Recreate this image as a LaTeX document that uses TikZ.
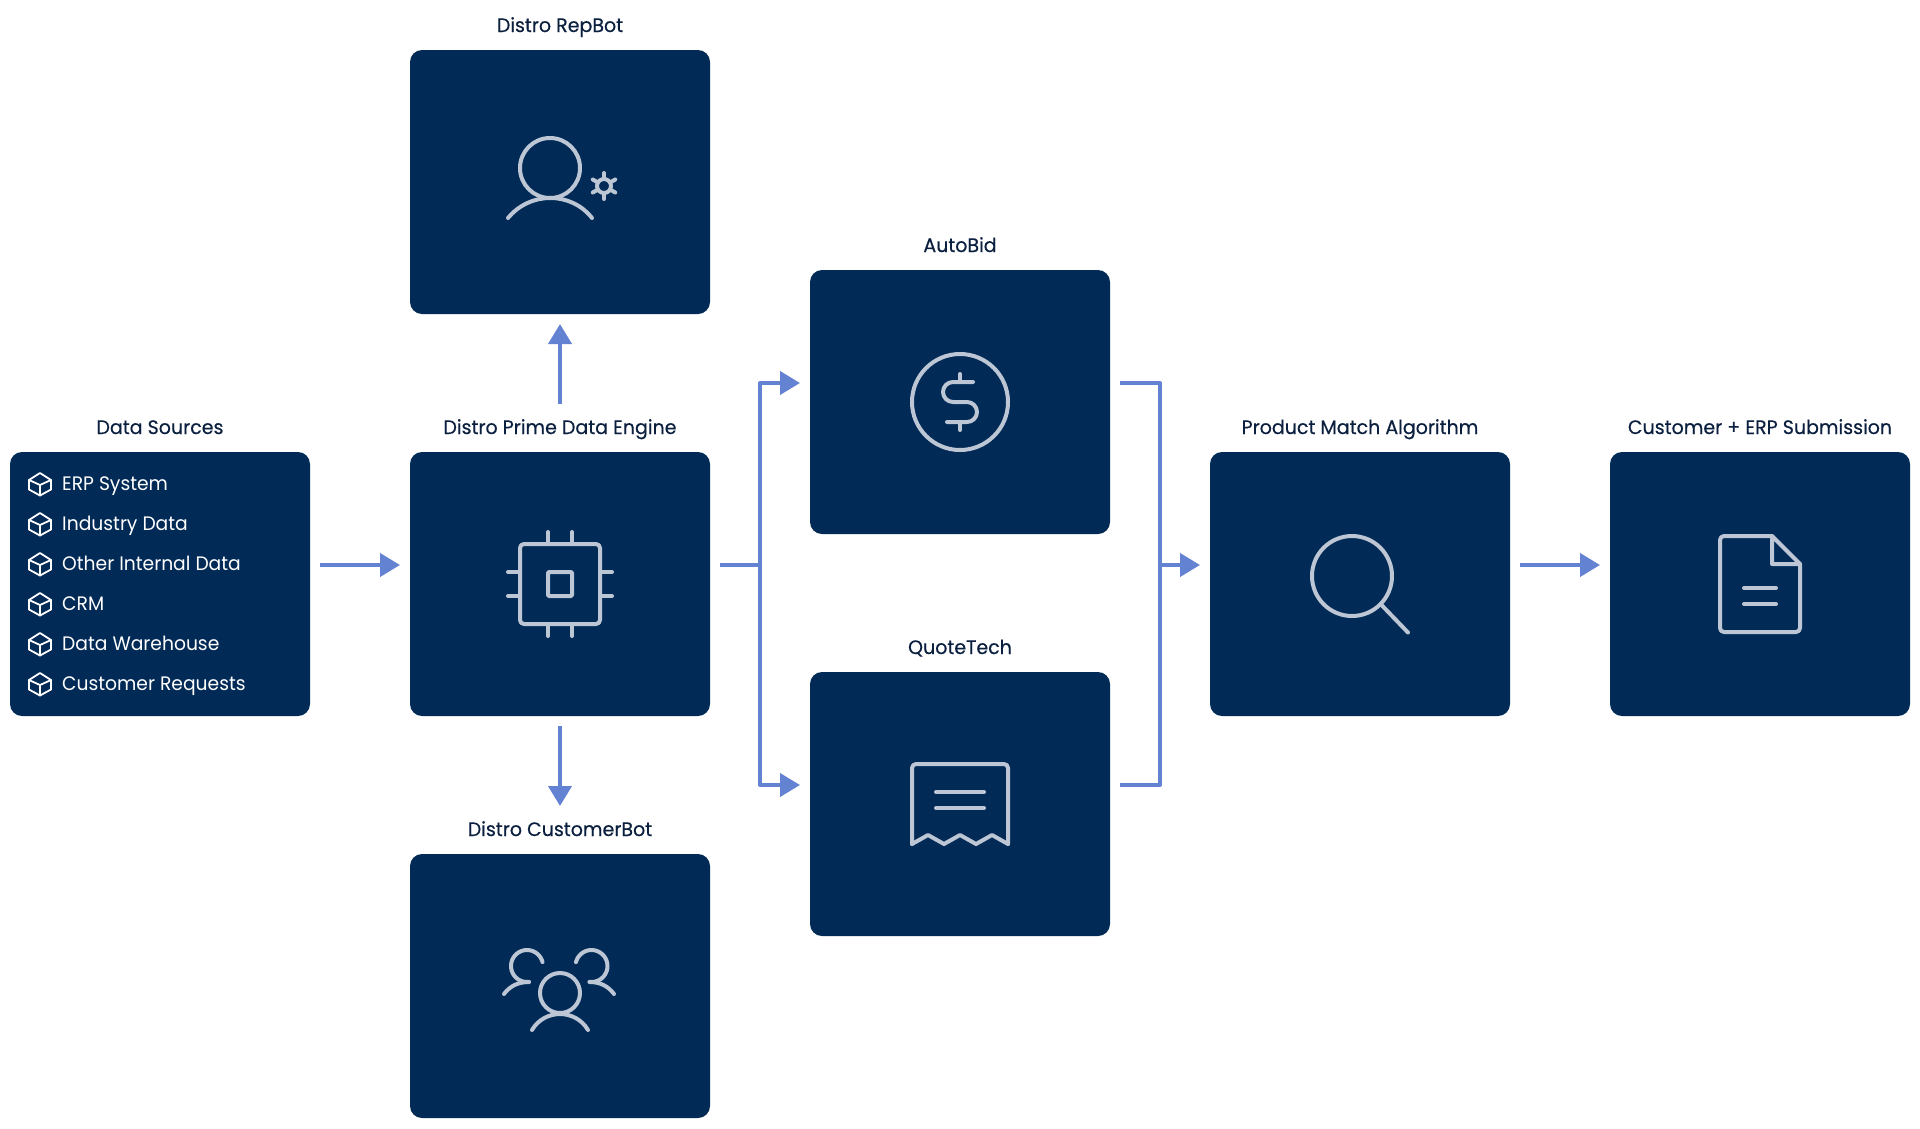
\documentclass[tikz,border=0pt]{standalone}
\usepackage{fontspec}
\setmainfont{Poppins}[FakeStretch=0.96]
\newfontfamily\ttlfont{Poppins}[FakeStretch=0.975,FakeBold=0.35]
\usetikzlibrary{arrows.meta}
\definecolor{navy}{HTML}{012A56}
\definecolor{flow}{HTML}{6482D2}
\definecolor{ink}{HTML}{0B1F3F}
\definecolor{glyph}{HTML}{BCC6D4}
\tikzset{
  x=1pt,y=-1pt,
  box/.style={fill=navy,rounded corners=12pt,minimum width=300pt,minimum height=264pt,inner sep=0pt,outer sep=0pt},
  ttl/.style={text=ink,anchor=base,inner sep=0pt,font=\fontsize{19.5}{24}\selectfont\ttlfont},
  item/.style={text=white,anchor=base west,inner sep=0pt,font=\fontsize{19.5}{24}\selectfont},
  flowline/.style={draw=flow,line width=4pt,line join=round},
  flowarrow/.style={flowline,-{Triangle[length=20pt,width=23pt]}},
  icon/.style={draw=glyph,line width=4pt,line cap=round,line join=round},
  cube/.style={draw=white,line width=1.8pt,line cap=round,line join=round},
}
\begin{document}
\begin{tikzpicture}
\useasboundingbox (0,0) rectangle (1920,1128);
% boxes
\node[box] (src) at (160,584) {};
\node[box] (prime) at (560,584) {};
\node[box] (rep) at (560,182) {};
\node[box] (cust) at (560,986) {};
\node[box] (auto) at (960,402) {};
\node[box] (quote) at (960,804) {};
\node[box] (match) at (1360,584) {};
\node[box] (erp) at (1760,584) {};
% titles
\node[ttl] (tsrc) at (160,434) {Data Sources};
\node[ttl] (tprime) at (560,434) {Distro Prime Data Engine};
\node[ttl] (trep) at (560,32) {Distro RepBot};
\node[ttl] (tcust) at (560,836) {Distro CustomerBot};
\node[ttl] (tauto) at (960,252) {AutoBid};
\node[ttl] (tquote) at (960,654) {QuoteTech};
\node[ttl] (tmatch) at (1360,434) {Product Match Algorithm};
\node[ttl] (terp) at (1760,434) {Customer + ERP Submission};
% list
\foreach \n/\t [count=\i from 0] in {a/ERP System,b/Industry Data,c/Other Internal Data,d/CRM,e/Data Warehouse,f/Customer Requests}{
  \node[item] (item\n) at (62,490+40*\i) {\t};
  \begin{scope}[yshift=-40pt*\i]
    \draw[cube] (40,473) -- (51,480) -- (51,489.5) -- (40,495.5) -- (29,489.5) -- (29,480) -- cycle;
    \draw[cube] (29,480) -- (40,485) -- (51,480) (40,485) -- (40,495.5);
  \end{scope}
}
% connectors
\coordinate (busL) at (760,565);
\coordinate (busR) at (1160,565);
\draw[flowarrow,shorten <=10pt,shorten >=10pt] ([yshift=19pt]src.east) -- ([yshift=19pt]prime.west);
\draw[flowarrow,shorten <=48pt,shorten >=10pt] (prime.north) -- (rep.south);
\draw[flowarrow,shorten <=10pt,shorten >=48pt] (prime.south) -- (cust.north);
\draw[flowline,shorten <=10pt] ([yshift=19pt]prime.east) -- (busL);
\draw[flowarrow,shorten >=10pt] (busL) |- ([yshift=19pt]auto.west);
\draw[flowarrow,shorten >=10pt] (busL) |- ([yshift=19pt]quote.west);
\draw[flowline,shorten <=10pt] ([yshift=19pt]auto.east) -| (busR);
\draw[flowline,shorten <=10pt] ([yshift=19pt]quote.east) -| (busR);
\draw[flowarrow,shorten >=10pt] (busR) -- ([yshift=19pt]match.west);
\draw[flowarrow,shorten <=10pt,shorten >=10pt] ([yshift=19pt]match.east) -- ([yshift=19pt]erp.west);
% icon: rep
\draw[icon] (550,168) circle[radius=30];
\draw[icon] (508,218) .. controls (530,191.3) and (571,191.3) .. (592,218);
\draw[icon] (604,186) circle[radius=7];
\foreach \a in {30,90,150,210,270,330}
  \draw[icon] ({604+8.5*cos(\a)},{186+8.5*sin(\a)}) -- ({604+13*cos(\a)},{186+13*sin(\a)});
% icon: chip
\draw[icon,rounded corners=4pt] (520,544) rectangle (600,624);
\draw[icon,rounded corners=1pt] (548,572) rectangle (572,596);
\draw[icon] (548,532) -- (548,544) (572,532) -- (572,544) (548,624) -- (548,636) (572,624) -- (572,636);
\draw[icon] (508,572) -- (520,572) (508,596) -- (520,596) (600,572) -- (612,572) (600,596) -- (612,596);
% icon: customers
\draw[icon] (560,993) circle[radius=20];
\draw[icon] (532,1030) .. controls (544.6,1008.7) and (575.4,1008.7) .. (588,1030);
\draw[icon] plot[smooth,domain=-277:-14,samples=30] ({527+16*cos(\x)},{966+16*sin(\x)});
\draw[icon] (504,994) .. controls (510,986) and (518,982) .. (529,982);
\draw[icon] plot[smooth,domain=-277:-14,samples=30] ({591.5-16*cos(\x)},{966+16*sin(\x)});
\draw[icon] (614,994) .. controls (608,986) and (600,982) .. (589.5,982);
% icon: dollar
\draw[icon] (960,402) circle[radius=48];
\draw[icon,rounded corners=10pt] (973,382) -- (943,382) -- (943,402) -- (977,402) -- (977,422) -- (947,422);
\draw[icon] (960,374) -- (960,382) (960,422) -- (960,430);
% icon: receipt
\draw[icon,rounded corners=4pt] (912,844) -- (912,764) -- (1008,764) -- (1008,844);
\draw[icon] (912,844) -- (928,835) -- (944,844) -- (960,835) -- (976,844) -- (992,835) -- (1008,844);
\draw[icon] (936,792) -- (984,792) (936,808) -- (984,808);
% icon: magnifier
\draw[icon] (1352,576) circle[radius=40];
\draw[icon] (1381.5,605) -- (1408,632.5);
% icon: document
\draw[icon,rounded corners=4pt] (1772,536) -- (1720,536) -- (1720,632) -- (1800,632) -- (1800,564);
\draw[icon] (1772,536) -- (1800,564) -- (1772,564) -- cycle;
\draw[icon] (1744,588) -- (1776,588) (1744,604) -- (1776,604);
\end{tikzpicture}
\end{document}
